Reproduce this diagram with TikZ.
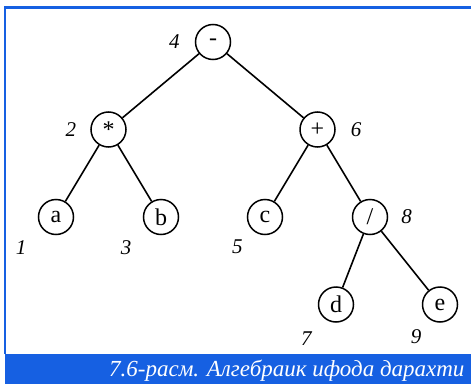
\documentclass[tikz,border=0pt]{standalone}
\usepackage{fontspec}
\setmainfont{Liberation Serif}
\definecolor{frameblue}{RGB}{22,96,226}
\begin{document}
\begin{tikzpicture}[
      x=1pt, y=1pt,
      grow=down,
      level distance=87.5pt,
      level 1/.style={sibling distance=209pt},
      level 2/.style={sibling distance=105pt},
      level 3/.style={sibling distance=104pt},
      vertex/.style={circle,draw,line width=1.5pt,minimum size=35pt,inner sep=0pt,font=\fontsize{24}{24}\selectfont},
      every child node/.style={vertex},
      edge from parent/.style={draw,line width=1.6pt},
      num/.style={font=\fontsize{21}{21}\selectfont\itshape,inner sep=0pt}
    ]
    \useasboundingbox (0,0) rectangle (471,384);
    % frame and caption bar
    \draw[frameblue,line width=2.4pt] (5,30) -- (5,376.5) -- (471,376.5);
    \fill[frameblue] (5,0) rectangle (471,30);
    \node[anchor=base east,text=white,font=\fontsize{23}{23}\selectfont\itshape] (caption) at (468,8) {7.6-расм. Алгебраик ифода дарахти};
    % expression tree
    \node[vertex,label={[num,name=n4,label distance=15pt]180:4}] (minus) at (213,342) {-}
      child { node[label={[num,name=n2,label distance=14pt]180:2}] (times) {*}
        child { node[label={[num,name=n1,label distance=19pt]218:1}] (a) {a} }
        child { node[label={[num,name=n3,label distance=19pt]218:3}] (b) {b} }
      }
      child { node[label={[num,name=n6,label distance=15pt]0:6}] (plus) {+}
        child { node[label={[num,name=n5,label distance=13pt]225:5}] (c) {c} }
        child { node[label={[num,name=n8,label distance=13pt]0:8}] (div) {/}
          child[xshift=18pt] { node[label={[num,name=n7,label distance=18pt]228:7}] (d) {d} }
          child[xshift=18pt] { node[label={[num,name=n9,label distance=13pt]234:9}] (e) {e} }
        }
      };
\end{tikzpicture}
\end{document}
